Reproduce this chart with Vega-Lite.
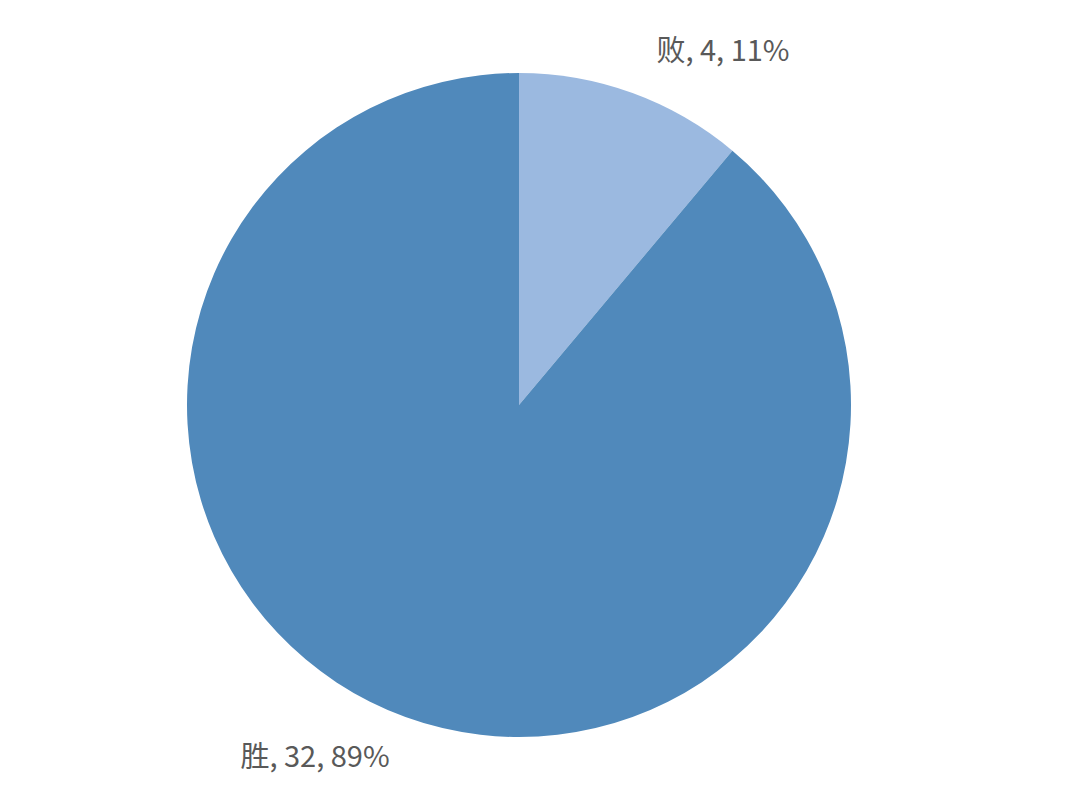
{
  "$schema": "https://vega.github.io/schema/vega-lite/v6.json",
  "autosize": {"type": "fit", "contains": "padding"},
  "width": 1080,
  "height": 810,
  "padding": {"left": 0, "top": 0, "right": 42, "bottom": 0},
  "background": "white",
  "config": {"view": {"stroke": null}},
  "data": {
    "values": [
      {"result": "败", "games": 4, "order": 1},
      {"result": "胜", "games": 32, "order": 2}
    ]
  },
  "transform": [
    {"joinaggregate": [{"op": "sum", "field": "games", "as": "total"}]},
    {"calculate": "datum.result + ',  ' + datum.games + ',  ' + format(datum.games / datum.total, '.0%')", "as": "label"}
  ],
  "encoding": {
    "theta": {"field": "games", "type": "quantitative", "stack": true},
    "order": {"field": "order", "type": "quantitative"}
  },
  "layer": [
    {
      "mark": {"type": "arc", "radius": 332, "stroke": null},
      "encoding": {
        "color": {
          "field": "result",
          "type": "nominal",
          "scale": {"domain": ["败", "胜"], "range": ["#9bb9e0", "#5089bb"]},
          "legend": null
        }
      }
    },
    {
      "mark": {
        "type": "text",
        "radius": 408,
        "font": "Noto Sans CJK SC",
        "fontSize": 29,
        "fill": "#595959"
      },
      "encoding": {
        "theta": {
          "field": "games",
          "type": "quantitative",
          "stack": true,
          "scale": {"range": [0.1745, 6.4577]}
        },
        "text": {"field": "label"}
      }
    }
  ],
  "resolve": {"scale": {"theta": "independent"}}
}
